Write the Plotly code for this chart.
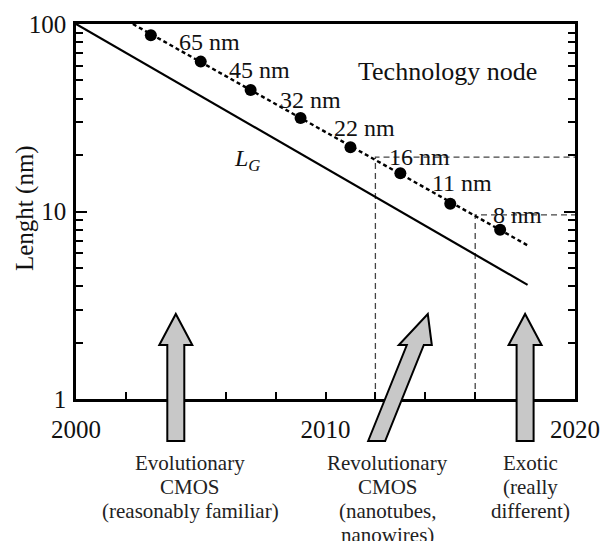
import math
import plotly.graph_objects as go

# ---------------- data ----------------
lg_years = [2000, 2018.1]
lg_values = [100, 4.06]

node_line_years = [2002.28, 2018.1]
node_line_values = [100, 6.6]

node_years = [2003, 2005, 2007, 2009, 2011, 2013, 2015, 2017]
node_values = [87, 63, 44.5, 31.5, 22, 16, 11, 8]

node_labels = ["65 nm", "45 nm", "32 nm", "22 nm", "16 nm", "11 nm", "8 nm"]
node_label_years = [2005.37, 2007.37, 2009.38, 2011.58, 2013.75, 2015.47, 2017.68]
node_label_values = [80.2, 56.9, 39.3, 27.9, 19.5, 14.2, 9.58]

ref_years = [2012, 2016]
ref_values = [19.5, 9.6]

x_tick_vals = [2000, 2010, 2020]
x_minor_vals = [2002, 2004, 2006, 2008, 2012, 2014, 2016, 2018]
y_tick_vals = [1, 10, 100]
y_tick_text = ["1", "10", "100"]
y_minor_vals = [2, 3, 4, 5, 6, 7, 8, 9, 20, 30, 40, 50, 60, 70, 80, 90]

category_lines = [
    ["Evolutionary", "CMOS", "(reasonably familiar)"],
    ["Revolutionary", "CMOS", "(nanotubes,", "nanowires)"],
    ["Exotic", "(really", "different)"],
]
category_years = [2004.57, 2012.5, 2018.2]

arrow_bottom_years = [2004, 2012.05, 2018]
arrow_tip_years = [2004, 2014.1, 2018]

# ---------------- layout geometry ----------------
W, H = 600, 541
PX_L, PX_R, PX_T, PX_B = 76, 575, 24, 399   # plot area in pixels
L, R, T, B = PX_L, W - PX_R, PX_T, H - PX_B
PW, PH = PX_R - PX_L, PX_B - PX_T
X0, X1 = 2000, 2020
FONT = "Liberation Serif, Times New Roman, serif"


def yp(py):
    """pixel y -> paper y"""
    return (PX_B - py) / PH


def xp(px):
    return (px - PX_L) / PW


def xp_year(yr):
    return (yr - X0) / (X1 - X0)


YR_PER_PX = (X1 - X0) / PW

fig = go.Figure()

# reference dashed lines
rx, ry = [], []
for yr, v in zip(ref_years, ref_values):
    rx += [yr, yr, X1, None]
    ry += [1, v, v, None]
fig.add_trace(go.Scatter(x=rx, y=ry, mode="lines",
                         line=dict(color="#444444", width=1.3, dash="6px,4px"),
                         hoverinfo="skip", showlegend=False))

# L_G line
fig.add_trace(go.Scatter(x=lg_years, y=lg_values, mode="lines",
                         line=dict(color="black", width=2.2),
                         showlegend=False))

# technology node dashed line + dots
fig.add_trace(go.Scatter(x=node_line_years, y=node_line_values, mode="lines",
                         line=dict(color="black", width=2.4, dash="4px,3px"),
                         showlegend=False))
fig.add_trace(go.Scatter(x=node_years, y=node_values, mode="markers",
                         marker=dict(color="black", size=12),
                         showlegend=False))

annotations = []
for txt, yr, v in zip(node_labels, node_label_years, node_label_values):
    annotations.append(dict(x=yr, y=math.log10(v), xref="x", yref="y",
                            xanchor="center", yanchor="middle",
                            text=txt, showarrow=False,
                            font=dict(family=FONT, size=24, color="#111")))

annotations.append(dict(x=2014.87, y=math.log10(55.5), xref="x", yref="y",
                        xanchor="center", yanchor="middle", text="Technology node",
                        showarrow=False, font=dict(family=FONT, size=26, color="#111")))
annotations.append(dict(x=2006.85, y=math.log10(18.8), xref="x", yref="y",
                        xanchor="center", yanchor="middle",
                        text="<i>L</i><sub><i>G</i></sub>",
                        showarrow=False, font=dict(family=FONT, size=24, color="#111")))

# y axis title
annotations.append(dict(x=xp(25), y=yp(208), xref="paper", yref="paper",
                        xanchor="center", yanchor="middle",
                        text="Lenght (nm)", textangle=-90, showarrow=False,
                        font=dict(family=FONT, size=25, color="#111")))

# category texts
for lines, yr in zip(category_lines, category_years):
    for i, line in enumerate(lines):
        annotations.append(dict(x=xp_year(yr), y=yp(463 + 24 * i), xref="paper", yref="paper",
                                text=line, showarrow=False, xanchor="center", yanchor="middle",
                                font=dict(family=FONT, size=21, color="#222")))

# arrows
shapes = []
y_bot, y_base, y_tip = 441, 345, 314
shaft_hw = 8.5 * YR_PER_PX
head_hw = 16.5 * YR_PER_PX
for xb, xt in zip(arrow_bottom_years, arrow_tip_years):
    frac = (y_bot - y_base) / (y_bot - y_tip)
    xm = xb + (xt - xb) * frac
    pts = [
        (xb - shaft_hw, y_bot), (xm - shaft_hw, y_base), (xm - head_hw, y_base),
        (xt, y_tip), (xm + head_hw, y_base), (xm + shaft_hw, y_base), (xb + shaft_hw, y_bot)
    ]
    path = "M " + " L ".join(f"{xp_year(a):.5f},{yp(b):.5f}" for a, b in pts) + " Z"
    shapes.append(dict(type="path", path=path, xref="paper", yref="paper",
                       fillcolor="#c8c8c8", line=dict(color="black", width=2),
                       layer="above"))

fig.update_layout(
    width=W, height=H,
    margin=dict(l=L, r=R, t=T, b=B, autoexpand=False),
    paper_bgcolor="white", plot_bgcolor="white",
    font=dict(family=FONT, color="black"),
    annotations=annotations, shapes=shapes,
    xaxis=dict(range=[X0, X1], showline=True, linecolor="black", linewidth=2.5,
               mirror=True, ticks="inside", tickvals=x_tick_vals, ticklen=7, tickwidth=2,
               tickcolor="black", automargin=False,
               minor=dict(tickvals=x_minor_vals, ticks="inside", ticklen=7, tickwidth=2,
                          tickcolor="black"),
               showgrid=False, zeroline=False, tickfont=dict(size=25, family=FONT, color="#111"),
               ticklabelstandoff=6),
    yaxis=dict(type="log", range=[0, 2], showline=True, linecolor="black", linewidth=2.5,
               mirror="ticks", ticks="inside", tickvals=y_tick_vals, ticktext=y_tick_text,
               ticklen=11, tickwidth=2, tickcolor="black", automargin=False,
               minor=dict(tickvals=y_minor_vals, ticks="inside", ticklen=7, tickwidth=2,
                          tickcolor="black"),
               showgrid=False, zeroline=False, tickfont=dict(size=25, family=FONT, color="#111"),
               ticklabelstandoff=2),
)

fig.write_html("out.html", config={"displayModeBar": False},
               post_script="document.body.style.margin='0';document.body.style.overflow='hidden';")
